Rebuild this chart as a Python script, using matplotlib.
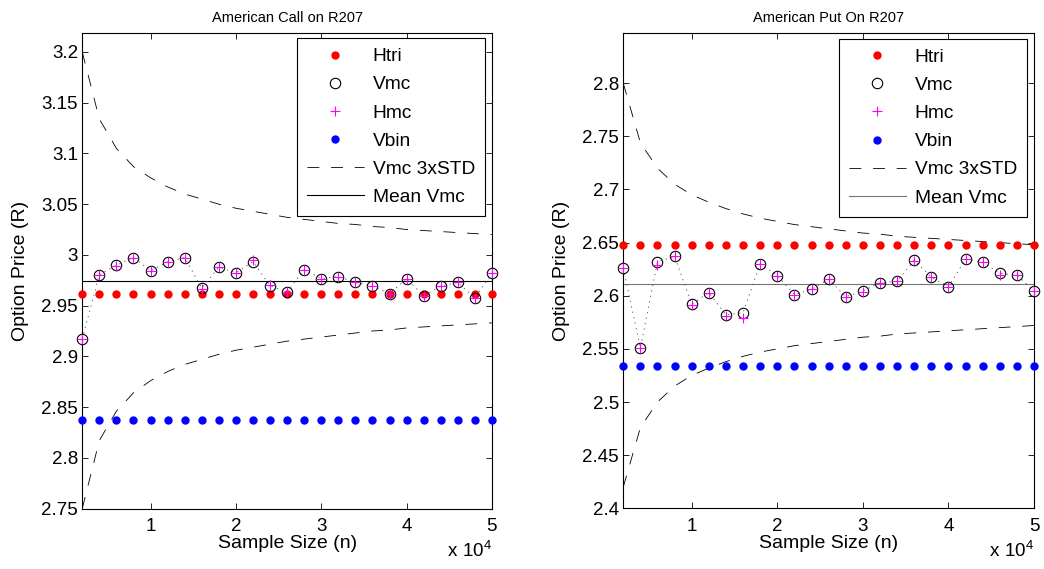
import numpy as np
import matplotlib.pyplot as plt
from matplotlib.ticker import FormatStrFormatter

plt.rcParams['font.family'] = ['Liberation Sans', 'DejaVu Sans']
plt.rcParams['font.size'] = 10
plt.rcParams['lines.scale_dashes'] = False

n = np.arange(2000, 50001, 2000)  # sample sizes

# American call
call_vmc = [2.9173, 2.9804, 2.9898, 2.9974, 2.9843, 2.9931, 2.9974, 2.9673, 2.9878, 2.9824,
            2.9934, 2.9696, 2.9633, 2.9856, 2.9765, 2.9787, 2.9728, 2.9692, 2.9618, 2.9765,
            2.9598, 2.9692, 2.9728, 2.9575, 2.9817]
call_hmc = [2.9173, 2.9804, 2.9895, 2.9974, 2.9843, 2.9931, 2.9974, 2.9668, 2.9878, 2.9824,
            2.9945, 2.9700, 2.9630, 2.9856, 2.9765, 2.9787, 2.9728, 2.9692, 2.9612, 2.9765,
            2.9598, 2.9692, 2.9728, 2.9580, 2.9817]
call_htri = 2.9618
call_vbin = 2.8373
call_mean = 2.9746
call_upper = [3.200, 3.134, 3.105, 3.087, 3.076, 3.067, 3.060, 3.055, 3.050, 3.046,
              3.043, 3.040, 3.037, 3.035, 3.033, 3.031, 3.030, 3.028, 3.027, 3.025,
              3.024, 3.023, 3.022, 3.021, 3.020]
call_lower = [2.750, 2.817, 2.846, 2.864, 2.876, 2.885, 2.892, 2.897, 2.902, 2.906,
              2.909, 2.912, 2.915, 2.917, 2.919, 2.921, 2.923, 2.925, 2.926, 2.928,
              2.929, 2.930, 2.931, 2.932, 2.933]

# American put
put_vmc = [2.6260, 2.5510, 2.6320, 2.6370, 2.5920, 2.6030, 2.5820, 2.5840, 2.6300, 2.6190,
           2.6010, 2.6060, 2.6155, 2.5990, 2.6045, 2.6123, 2.6136, 2.6334, 2.6174, 2.6086,
           2.6344, 2.6318, 2.6210, 2.6193, 2.6048]
put_hmc = [2.6260, 2.5510, 2.6290, 2.6370, 2.5915, 2.6030, 2.5810, 2.5795, 2.6300, 2.6190,
           2.6010, 2.6060, 2.6155, 2.5985, 2.6033, 2.6123, 2.6136, 2.6328, 2.6174, 2.6086,
           2.6344, 2.6318, 2.6200, 2.6193, 2.6048]
put_htri = 2.6478
put_vbin = 2.5339
put_mean = 2.6108
put_upper = [2.800, 2.744, 2.720, 2.705, 2.695, 2.688, 2.682, 2.677, 2.673, 2.670,
             2.667, 2.665, 2.663, 2.661, 2.659, 2.658, 2.656, 2.655, 2.654, 2.653,
             2.652, 2.651, 2.650, 2.649, 2.648]
put_lower = [2.420, 2.476, 2.500, 2.515, 2.525, 2.532, 2.538, 2.543, 2.547, 2.550,
             2.553, 2.555, 2.557, 2.559, 2.561, 2.562, 2.564, 2.565, 2.566, 2.567,
             2.568, 2.569, 2.570, 2.571, 2.572]

FS = 13.5  # ticks, labels and legend text


def panel(ax, title, vmc, hmc, htri, vbin, mean, upper, lower, ylim, yticks, mean_color):
    ax.plot(n, np.full(len(n), htri), 'o', color='red', ms=5, mec='red', clip_on=False,
            zorder=3, label='Htri')
    ax.plot(n, vmc, 'o', mfc='none', mec='black', ms=7.5, mew=0.8, clip_on=False,
            zorder=5, label='Vmc')
    ax.plot(n, hmc, '+', color='magenta', ms=7, mew=0.8, clip_on=False,
            zorder=6, label='Hmc')
    ax.plot(n, np.full(len(n), vbin), 'o', color='blue', ms=5, mec='blue', clip_on=False,
            zorder=3, label='Vbin')
    ax.plot(n, upper, color='black', lw=0.6, ls=(0, (8.5, 8.5)), label='Vmc 3xSTD')
    ax.plot(n, lower, color='black', lw=0.6, ls=(0, (8.5, 8.5)))
    ax.axhline(mean, color=mean_color, lw=0.8, label='Mean Vmc', zorder=2)
    ax.plot(n, vmc, color='0.35', lw=0.6, ls=(0, (1, 3)), zorder=4)

    ax.set_xlim(2000, 50000)
    ax.set_ylim(*ylim)
    ax.set_xticks([10000, 20000, 30000, 40000, 50000])
    ax.set_xticklabels(['1', '2', '3', '4', '5'])
    ax.set_yticks(yticks)
    ax.yaxis.set_major_formatter(FormatStrFormatter('%g'))
    ax.tick_params(direction='in', top=True, right=True, length=4, width=0.6,
                   labelsize=FS)
    ax.tick_params(axis='x', pad=7)
    ax.tick_params(axis='y', pad=3)
    for s in ax.spines.values():
        s.set_linewidth(0.8)
    ax.set_title(title, fontsize=10.5, pad=8)
    ax.set_xlabel('Sample Size (n)', fontsize=14, labelpad=0)
    ax.set_ylabel('Option Price (R)', fontsize=14, labelpad=9)
    ax.text(1.0, -0.068, r'$\mathregular{x\ 10^{4}}$', transform=ax.transAxes,
            ha='right', va='top', fontsize=FS)
    leg = ax.legend(loc='upper right', bbox_to_anchor=(0.983, 0.989), fancybox=False,
                    framealpha=1, edgecolor='black', fontsize=13.8, handlelength=3.0,
                    handletextpad=0.45, labelspacing=0.56, borderpad=0.52, borderaxespad=0)
    leg.get_frame().set_linewidth(0.8)


fig = plt.figure(figsize=(10.44, 5.69), dpi=100)
ax1 = fig.add_axes([0.0788, 0.1063, 0.3924, 0.8362])
ax2 = fig.add_axes([0.5970, 0.1067, 0.3934, 0.8348])

panel(ax1, 'American Call on R207', call_vmc, call_hmc, call_htri, call_vbin, call_mean,
      call_upper, call_lower, (2.75, 3.219), np.arange(2.75, 3.201, 0.05), 'black')
panel(ax2, 'American Put On R207', put_vmc, put_hmc, put_htri, put_vbin, put_mean,
      put_upper, put_lower, (2.4, 2.847), np.arange(2.4, 2.801, 0.05), '0.45')

fig.savefig('out.png', dpi=100)
